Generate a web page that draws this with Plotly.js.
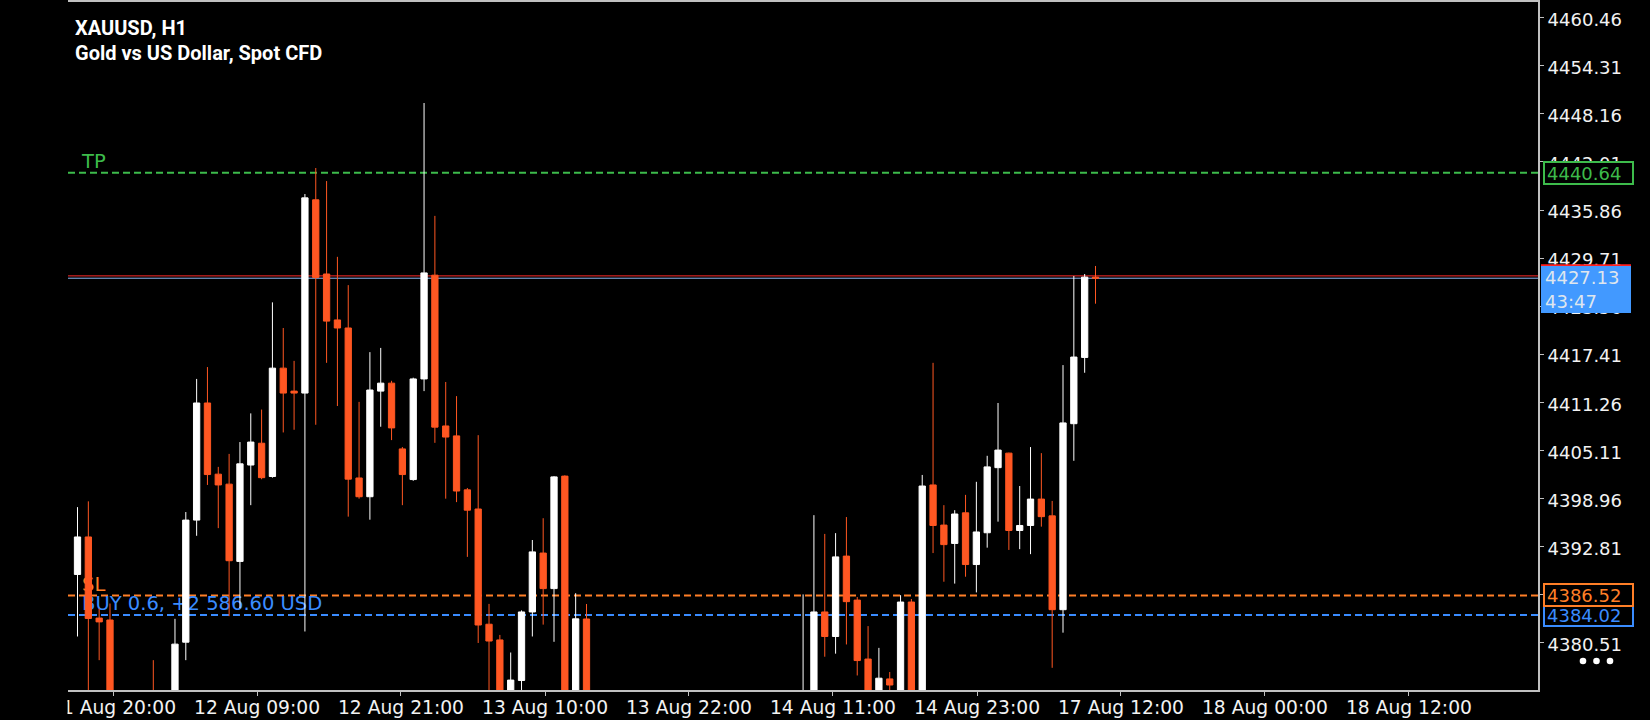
<!DOCTYPE html>
<html>
<head>
<meta charset="utf-8">
<script src="https://cdn.plot.ly/plotly-3.0.1.min.js"></script>
<style>
  html, body { margin: 0; padding: 0; background: #000; }
  #chart { width: 1650px; height: 720px; }
</style>
</head>
<body>
<div id="chart"></div>
<script>
// ---- Data (XAUUSD H1) ----
const openP = [
  4389.21, 4394.01, 4383.63, 4383.38, 4371.3, 4368.5, 4371.6, 4372.6, 4368.3, 4372.4,
  4380.54, 4396.17, 4411.16, 4402.05, 4400.77, 4390.88, 4403.22, 4406.01, 4401.75, 4415.62,
  4412.68, 4412.43, 4437.17, 4427.67, 4421.79, 4420.76, 4401.56, 4399.16, 4412.68, 4413.70,
  4405.28, 4401.36, 4414.24, 4427.52, 4408.22, 4406.95, 4400.04, 4397.59, 4382.84, 4380.83,
  4371.4, 4375.64, 4384.41, 4391.95, 4387.40, 4401.80, 4370.6, 4383.51, 4368.9, 4365.1,
  4368.2, 4366.3, 4362.0, 4364.9, 4362.8, 4365.4, 4368.6, 4366.0, 4363.3, 4365.7,
  4367.8, 4369.5, 4368.1, 4366.7, 4368.4, 4370.3, 4369.6, 4371.8, 4373.2, 4384.41,
  4381.27, 4391.56, 4385.93, 4378.38, 4373.0, 4375.84, 4373.8, 4385.68, 4373.4, 4400.67,
  4395.53, 4393.18, 4397.10, 4390.48, 4394.55, 4402.88, 4404.74, 4394.84, 4395.48, 4398.86,
  4396.71, 4384.70, 4408.51, 4416.99, 4427.27
];
const highP = [
  4397.83, 4398.57, 4384.85, 4385.49, 4373.7, 4372.9, 4373.9, 4378.24, 4373.8, 4383.53,
  4397.20, 4414.24, 4415.76, 4402.98, 4404.64, 4406.16, 4409.83, 4410.32, 4424.04, 4420.76,
  4416.55, 4437.91, 4441.24, 4439.57, 4429.87, 4426.25, 4411.30, 4417.67, 4418.21, 4414.00,
  4405.52, 4414.40, 4449.56, 4435.11, 4413.85, 4412.04, 4400.28, 4407.04, 4385.44, 4381.47,
  4379.22, 4384.61, 4393.62, 4396.41, 4401.80, 4401.90, 4386.81, 4385.43, 4372.6, 4369.8,
  4371.9, 4368.5, 4365.8, 4367.3, 4366.1, 4369.7, 4370.8, 4367.9, 4366.4, 4368.9,
  4371.2, 4372.8, 4370.4, 4369.2, 4371.6, 4373.1, 4372.9, 4386.66, 4396.80, 4394.40,
  4394.50, 4396.56, 4386.32, 4382.60, 4379.81, 4376.72, 4386.56, 4386.07, 4401.95, 4416.30,
  4398.08, 4397.44, 4399.40, 4401.07, 4404.40, 4411.16, 4404.80, 4400.53, 4405.52, 4404.74,
  4398.62, 4416.01, 4427.42, 4427.67, 4428.70
];
const lowP = [
  4381.27, 4372.9, 4378.24, 4369.6, 4366.2, 4365.4, 4368.8, 4366.9, 4366.5, 4371.0,
  4378.24, 4394.16, 4400.67, 4395.14, 4383.87, 4384.90, 4398.08, 4401.40, 4401.60, 4407.39,
  4407.73, 4381.91, 4408.37, 4416.30, 4410.77, 4396.61, 4398.91, 4396.22, 4408.12, 4406.41,
  4398.08, 4401.20, 4412.68, 4406.06, 4398.91, 4398.47, 4391.46, 4380.44, 4373.6, 4369.7,
  4369.2, 4373.9, 4381.27, 4382.79, 4380.59, 4369.0, 4369.3, 4366.8, 4363.4, 4361.2,
  4364.7, 4360.4, 4358.6, 4361.5, 4359.9, 4364.0, 4365.2, 4361.7, 4360.8, 4363.6,
  4366.1, 4367.0, 4364.3, 4363.9, 4366.2, 4368.5, 4367.4, 4369.9, 4371.5, 4378.68,
  4379.07, 4380.25, 4376.28, 4371.2, 4372.1, 4374.0, 4373.2, 4372.6, 4372.9, 4391.95,
  4388.28, 4388.04, 4388.92, 4386.91, 4392.64, 4395.97, 4392.35, 4392.45, 4391.81, 4395.33,
  4377.26, 4381.76, 4403.76, 4415.03, 4423.87
];
const closeP = [
  4394.01, 4383.58, 4383.14, 4371.3, 4368.5, 4371.6, 4372.6, 4368.3, 4372.4, 4380.29,
  4396.17, 4411.16, 4402.00, 4400.67, 4390.97, 4403.37, 4406.16, 4401.60, 4415.62, 4412.43,
  4412.43, 4437.42, 4427.23, 4421.64, 4420.76, 4401.41, 4399.16, 4412.82, 4413.70, 4407.97,
  4402.00, 4414.24, 4427.81, 4408.07, 4406.80, 4399.89, 4397.44, 4382.74, 4380.69, 4371.4,
  4375.69, 4384.41, 4392.10, 4387.40, 4401.70, 4370.6, 4383.53, 4368.9, 4365.1, 4368.2,
  4366.3, 4362.0, 4364.9, 4362.8, 4365.4, 4368.6, 4366.0, 4363.3, 4365.7, 4367.8,
  4369.5, 4368.1, 4366.7, 4368.4, 4370.3, 4369.6, 4371.8, 4373.6, 4384.41, 4381.27,
  4391.46, 4385.73, 4378.19, 4373.0, 4375.93, 4375.06, 4385.68, 4373.4, 4400.53, 4395.48,
  4393.03, 4396.95, 4390.48, 4394.65, 4402.98, 4405.13, 4394.84, 4395.48, 4398.86, 4396.61,
  4384.70, 4408.61, 4417.04, 4427.27, 4427.13
];

// time-scale labels and where they sit, in bar units
const timeLabels = ['11 Aug 20:00', '12 Aug 09:00', '12 Aug 21:00', '13 Aug 10:00', '13 Aug 22:00',
                    '14 Aug 11:00', '14 Aug 23:00', '17 Aug 12:00', '18 Aug 00:00', '18 Aug 12:00'];
const timeTickBars = [3.28, 16.58, 29.87, 43.17, 56.46, 69.76, 83.06, 96.35, 109.65, 122.94];

// price-scale ticks
const priceTicks = [4460.46, 4454.31, 4448.16, 4442.01, 4435.86, 4429.71, 4423.56, 4417.41,
                    4411.26, 4405.11, 4398.96, 4392.81, 4386.66, 4380.51];

// trade levels
const tpPrice = 4440.64;
const slPrice = 4386.52;
const entryPrice = 4384.02;
const bidPrice = 4427.13;
const askPrice = 4427.43;
const countdown = '43:47';
const tradeText = 'BUY 0.6, +2 586.60 USD';

// ---- Styling ----
const BG = '#000000';
const FRAME = '#c0c0c0';
const UP = '#ffffff';
const DOWN = '#ff5722';
const GREEN = '#3dbb4b';
const ORANGE = '#ff7f27';
const BLUE = '#3a8cff';
const XR = [-0.877, 134.86];
const YR = [4374.42, 4462.49];

const PLOT_L = 68, PLOT_R = 1538, PLOT_T = 2, PLOT_B = 690;
const PW = PLOT_R - PLOT_L, PH = PLOT_B - PLOT_T;
const px2paperX = p => (p - PLOT_L) / PW;
const px2paperY = p => (PLOT_B - p) / PH;

const barIdx = openP.map((_, i) => i);

const candles = {
  type: 'candlestick',
  x: barIdx, open: openP, high: highP, low: lowP, close: closeP,
  xaxis: 'x2', yaxis: 'y2',
  increasing: { line: { color: UP, width: 1 }, fillcolor: UP },
  decreasing: { line: { color: DOWN, width: 1 }, fillcolor: DOWN },
  whiskerwidth: 0,
  hoverinfo: 'skip',
  showlegend: false
};

const levelText = {
  type: 'scatter', mode: 'text',
  x: [0.42, 0.42, 0.42],
  y: [tpPrice, slPrice, entryPrice],
  text: ['TP', 'SL', tradeText],
  textposition: 'top right',
  textfont: { family: 'DejaVu Sans', size: 19.5, color: [GREEN, ORANGE, BLUE] },
  xaxis: 'x', yaxis: 'y',
  hoverinfo: 'skip', showlegend: false
};

const hline = (y, color, dash, width) => ({
  type: 'line', xref: 'paper', x0: 0, x1: 1, yref: 'y', y0: y, y1: y,
  line: { color: color, width: width, dash: dash }, layer: 'below'
});

const shapes = [
  hline(tpPrice, GREEN, '7px,4px', 2),
  hline(slPrice, ORANGE, '7px,4px', 2),
  hline(entryPrice, BLUE, '7px,4px', 2),
  hline(askPrice, '#ff2a2a', 'solid', 1),
  hline(bidPrice, '#8ab4f0', 'solid', 1),
  // clip the first time label at the left edge
  { type: 'rect', xref: 'paper', yref: 'paper', x0: -0.06, x1: px2paperX(67.5),
    y0: px2paperY(720), y1: px2paperY(693), fillcolor: BG, line: { width: 0 }, layer: 'above' },
  // red mark on top of the live price box
  { type: 'line', xref: 'paper', x0: px2paperX(1541), x1: px2paperX(1631),
    yref: 'y', ysizemode: 'pixel', yanchor: bidPrice, y0: 13, y1: 13,
    line: { color: '#ff2020', width: 2 }, layer: 'above' }
];
// three menu dots
[1583, 1596.5, 1610].forEach(cx => {
  shapes.push({ type: 'circle', xref: 'paper', yref: 'paper',
    x0: px2paperX(cx - 3.3), x1: px2paperX(cx + 3.3),
    y0: px2paperY(661 + 3.3), y1: px2paperY(661 - 3.3),
    fillcolor: '#ffffff', line: { width: 0 }, layer: 'above' });
});

const boxFont = c => ({ family: 'DejaVu Sans', size: 18, color: c });
const priceBox = (y, color) => ({
  xref: 'paper', x: px2paperX(1542.5), xanchor: 'left',
  yref: 'y', y: y, yanchor: 'middle',
  text: y.toFixed(2), showarrow: false, align: 'left',
  font: boxFont(color), bgcolor: BG, bordercolor: color, borderwidth: 2, borderpad: 2,
  width: 83, height: 16
});

const annotations = [
  { xref: 'paper', x: px2paperX(73), xanchor: 'left', yref: 'paper', y: px2paperY(14), yanchor: 'top',
    text: 'XAUUSD, H1', showarrow: false,
    font: { family: 'Roboto', size: 20, weight: 'bold', color: '#ffffff' } },
  { xref: 'paper', x: px2paperX(73), xanchor: 'left', yref: 'paper', y: px2paperY(38.5), yanchor: 'top',
    text: 'Gold vs US Dollar, Spot CFD', showarrow: false,
    font: { family: 'Roboto', size: 20, weight: 'bold', color: '#ffffff' } },
  priceBox(entryPrice, BLUE),
  priceBox(slPrice, ORANGE),
  priceBox(tpPrice, GREEN),
  { xref: 'paper', x: px2paperX(1541), xanchor: 'left',
    yref: 'y', y: bidPrice, yanchor: 'top', yshift: 12,
    text: bidPrice.toFixed(2) + '<br>' + countdown, showarrow: false, align: 'left',
    font: boxFont('#dfe6ee'), bgcolor: '#4299ff', borderwidth: 0, borderpad: 4,
    width: 82, height: 39 }
];

const layout = {
  width: 1650, height: 720,
  paper_bgcolor: BG, plot_bgcolor: BG,
  margin: { l: PLOT_L, r: 1650 - PLOT_R, t: PLOT_T, b: 720 - PLOT_B, pad: 0 },
  showlegend: false, hovermode: false,
  boxgap: 0.42, boxgroupgap: 0,
  xaxis: {
    range: XR, fixedrange: true,
    tickvals: timeTickBars, ticktext: timeLabels,
    showgrid: false, zeroline: false,
    showline: true, mirror: true, linecolor: FRAME, linewidth: 2,
    ticks: 'outside', ticklen: 4, tickwidth: 1, tickcolor: FRAME,
    ticklabelstandoff: -4,
    tickfont: { family: 'DejaVu Sans', size: 18.7, color: '#f2f2f2' }
  },
  yaxis: {
    range: YR, fixedrange: true, side: 'right',
    tickvals: priceTicks, ticktext: priceTicks.map(v => v.toFixed(2)),
    showgrid: false, zeroline: false,
    showline: true, linecolor: FRAME, linewidth: 2,
    ticks: 'outside', ticklen: 4, tickwidth: 1, tickcolor: FRAME,
    ticklabelshift: 2,
    tickfont: { family: 'DejaVu Sans', size: 18, color: '#f2f2f2' }
  },
  xaxis2: { overlaying: 'x', anchor: 'y2', range: XR, visible: false, fixedrange: true,
            rangeslider: { visible: false } },
  yaxis2: { overlaying: 'y', anchor: 'x2', range: YR, visible: false, fixedrange: true },
  shapes: shapes,
  annotations: annotations
};

Plotly.newPlot('chart', [levelText, candles], layout, { displayModeBar: false, staticPlot: true });
</script>
</body>
</html>
